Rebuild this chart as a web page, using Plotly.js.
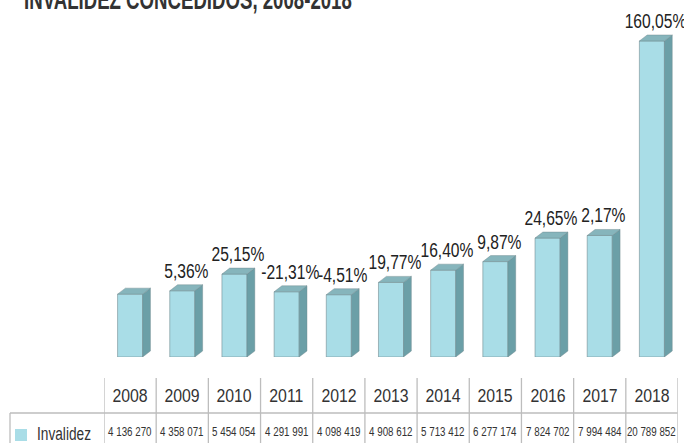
<!DOCTYPE html>
<html>
<head>
<meta charset="utf-8">
<script src="https://cdn.plot.ly/plotly-3.0.1.min.js"></script>
<style>
  html, body { margin: 0; padding: 0; background: #ffffff; }
  #chart { width: 684px; height: 443px; }
</style>
</head>
<body>
<div id="chart"></div>
<script>
// ---- data ----
const years = ['2008','2009','2010','2011','2012','2013','2014','2015','2016','2017','2018'];
const invalidez = [4136270, 4358071, 5454054, 4291991, 4098419, 4908612, 5713412, 6277174, 7824702, 7994484, 20789852];
const valueLabels = ['4 136 270','4 358 071','5 454 054','4 291 991','4 098 419','4 908 612','5 713 412','6 277 174','7 824 702','7 994 484','20 789 852'];
const pctLabels = ['', '5,36%', '25,15%', '-21,31%', '-4,51%', '19,77%', '16,40%', '9,87%', '24,65%', '2,17%', '160,05%'];
const seriesName = 'Invalidez';
const titleText = 'INVALIDEZ CONCEDIDOS, 2008-2018';

// ---- layout geometry ----
const W = 684, H = 443;
const mL = 104, mR = 6, mT = 20, mB = 86;
const plotW = W - mL - mR, plotH = H - mT - mB;
const yMax = 22170000;
const FONT = '"Liberation Sans", Arial, sans-serif';

const barW = 0.48;          // front face width (category units)
const depthX = 0.15;        // 3D depth in x (category units)
const depthY = yMax * 6 / plotH; // 3D depth in y (value units, ~6px)

const FRONT = '#a9dde7', SIDE = '#6b9fa7', TOP = '#86b5bc', EDGE = 'rgba(110,135,140,0.7)';

const px2paperX = p => (p - mL) / plotW;
const px2paperY = p => (H - mB - p) / plotH;

const xs = years.map((_, i) => i);
const traces = [];

// front faces
traces.push({
  type: 'bar', x: xs, y: invalidez, width: barW,
  marker: { color: FRONT, line: { color: EDGE, width: 0.8 } },
  hoverinfo: 'skip', showlegend: false
});

// side and top faces
invalidez.forEach((v, i) => {
  const x0 = i - barW / 2, x1 = i + barW / 2;
  traces.push({
    type: 'scatter', mode: 'lines', fill: 'toself', fillcolor: SIDE,
    x: [x1, x1 + depthX, x1 + depthX, x1, x1],
    y: [0, depthY, v + depthY, v, 0],
    line: { color: EDGE, width: 0.6 }, hoverinfo: 'skip', showlegend: false
  });
  traces.push({
    type: 'scatter', mode: 'lines', fill: 'toself', fillcolor: TOP,
    x: [x0, x0 + depthX, x1 + depthX, x1, x0],
    y: [v, v + depthY, v + depthY, v, v],
    line: { color: EDGE, width: 0.6 }, hoverinfo: 'skip', showlegend: false
  });
});

const annotations = [];
const squeeze = [];   // horizontal condensing factor for each annotation
function addAnn(a, s) { annotations.push(a); squeeze.push(s); }

// percentage labels
invalidez.forEach((v, i) => {
  if (!pctLabels[i]) return;
  addAnn({
    xref: 'x', yref: 'y', x: i + depthX / 2, y: v + depthY,
    text: pctLabels[i], showarrow: false, xanchor: 'center', yanchor: 'bottom',
    yshift: 1, font: { family: FONT, size: 20, color: '#222' }
  }, 0.78);
});
// title (partly clipped at top)
addAnn({
  xref: 'paper', yref: 'paper', x: px2paperX(22), y: px2paperY(17),
  xanchor: 'left', yanchor: 'bottom', align: 'left', showarrow: false,
  text: '<b>' + titleText + '</b>',
  font: { family: FONT, size: 27, color: '#333' }
}, 0.69);
// table: years row and values row
years.forEach((yr, i) => {
  addAnn({
    xref: 'x', yref: 'paper', x: i, y: px2paperY(396),
    text: yr, showarrow: false, xanchor: 'center', yanchor: 'middle',
    font: { family: FONT, size: 18, color: '#333' }
  }, 0.88);
  addAnn({
    xref: 'x', yref: 'paper', x: i, y: px2paperY(432),
    text: valueLabels[i], showarrow: false, xanchor: 'center', yanchor: 'middle',
    font: { family: FONT, size: 12.5, color: '#333' }
  }, 0.78);
});
addAnn({
  xref: 'paper', yref: 'paper', x: px2paperX(35), y: px2paperY(434),
  text: seriesName, showarrow: false, xanchor: 'left', yanchor: 'middle', align: 'left',
  font: { family: FONT, size: 18, color: '#333' }
}, 0.76);

const GRID = '#bdbdbd';
const shapes = [];
// vertical separators
for (let k = 0; k <= years.length; k++) {
  shapes.push({
    type: 'line', xref: 'x', yref: 'paper',
    x0: k - 0.5, x1: k - 0.5, y0: px2paperY(378), y1: px2paperY(446),
    line: { color: GRID, width: 1.3 }
  });
}
// horizontal separator and left border
shapes.push({
  type: 'line', xref: 'paper', yref: 'paper',
  x0: px2paperX(10), x1: px2paperX(677.5), y0: px2paperY(413), y1: px2paperY(413),
  line: { color: GRID, width: 1.3 }
});
shapes.push({
  type: 'line', xref: 'paper', yref: 'paper',
  x0: px2paperX(10), x1: px2paperX(10), y0: px2paperY(413), y1: px2paperY(446),
  line: { color: GRID, width: 1.3 }
});
// legend key square
shapes.push({
  type: 'rect', xref: 'paper', yref: 'paper',
  x0: px2paperX(15), x1: px2paperX(27), y0: px2paperY(429), y1: px2paperY(441),
  fillcolor: FRONT, line: { width: 0 }
});

const layout = {
  width: W, height: H,
  margin: { l: mL, r: mR, t: mT, b: mB, pad: 0 },
  paper_bgcolor: '#ffffff', plot_bgcolor: '#ffffff',
  showlegend: false,
  xaxis: { range: [-0.5, 10.5], showgrid: false, zeroline: false, showticklabels: false, showline: false, fixedrange: true },
  yaxis: { range: [0, yMax], showgrid: false, zeroline: false, showticklabels: false, showline: false, fixedrange: true },
  annotations: annotations,
  shapes: shapes,
  font: { family: FONT }
};

Plotly.newPlot('chart', traces, layout, { displayModeBar: false, staticPlot: true }).then(gd => {
  // emulate the condensed typeface of the original by narrowing each label
  gd.querySelectorAll('g.annotation').forEach(g => {
    const idx = +g.getAttribute('data-index');
    const t = g.querySelector('text.annotation-text');
    if (!t || !(idx in squeeze)) return;
    const len = t.getComputedTextLength();
    t.setAttribute('textLength', (len * squeeze[idx]).toFixed(2));
    t.setAttribute('lengthAdjust', 'spacingAndGlyphs');
  });
});
</script>
</body>
</html>
